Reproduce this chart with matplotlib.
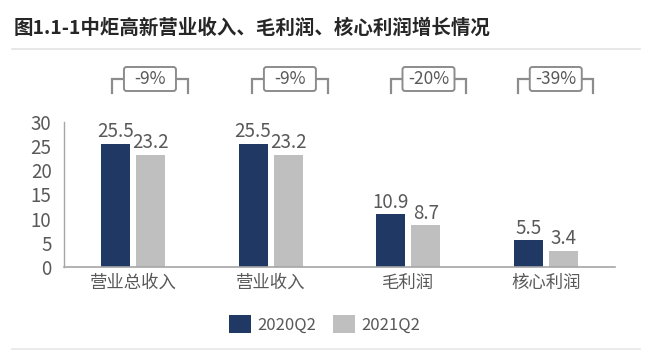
import matplotlib
matplotlib.use("Agg")
import matplotlib.pyplot as plt
import numpy as np
from matplotlib.patches import FancyBboxPatch
from matplotlib.lines import Line2D

plt.rcParams['font.family'] = ['Noto Sans CJK SC', 'DejaVu Sans']

title = "图1.1-1中炬高新营业收入、毛利润、核心利润增长情况"
categories = ["营业总收入", "营业收入", "毛利润", "核心利润"]
series_names = ["2020Q2", "2021Q2"]
values_2020 = [25.5, 25.5, 10.9, 5.5]
values_2021 = [23.2, 23.2, 8.7, 3.4]
changes = ["-9%", "-9%", "-20%", "-39%"]
yticks = [0, 5, 10, 15, 20, 25, 30]

# layout
bracket_offsets = [0.124, 0.14, 0.146, 0.07]
c_dark = "#1F3864"
c_grey = "#BFBFBF"
txt = "#595959"
line_c = "#8C8C8C"

W, H = 655, 357
fig = plt.figure(figsize=(W / 100, H / 100), dpi=100)
ax_l, ax_r = 64, 615
ax = fig.add_axes([ax_l / W, 1 - 267 / H, (ax_r - ax_l) / W, (267 - 122) / H])

x = np.arange(len(categories))
bw = 0.21
gap = 0.045
b1 = ax.bar(x - (bw + gap) / 2, values_2020, bw, color=c_dark, label=series_names[0])
b2 = ax.bar(x + (bw + gap) / 2, values_2021, bw, color=c_grey, label=series_names[1])

for bars, vals in ((b1, values_2020), (b2, values_2021)):
    for r, v in zip(bars, vals):
        ax.annotate(f"{v:.1f}", (r.get_x() + r.get_width() / 2, v),
                    xytext=(0, 1), textcoords="offset points",
                    ha="center", va="bottom", fontsize=13.5, color=txt)

ax.set_xlim(-0.5, len(categories) - 0.5)
ax.set_ylim(0, 30)
ax.set_yticks(yticks)
ax.set_xticks(x)
ax.set_xticklabels(categories, fontsize=12.5, color=txt)
ax.tick_params(axis="y", labelsize=13.5, labelcolor=txt, length=0, pad=9)
ax.tick_params(axis="x", length=0, pad=5)
for s in ("top", "right"):
    ax.spines[s].set_visible(False)
ax.spines["left"].set_color("#A6A6A6")
ax.spines["bottom"].set_color("#A6A6A6")
ax.spines["left"].set_linewidth(1.0)
ax.spines["bottom"].set_linewidth(1.2)

# brackets with change boxes (figure-fraction coordinates)
unit = (ax_r - ax_l) / len(categories)
half_w = 37.7 / W
box_w = 52 / W
box_h = 24 / H
y_line = 1 - 79 / H
y_bot = 1 - 93 / H
for i, lab in enumerate(changes):
    cx = (ax_l + (x[i] + bracket_offsets[i] + 0.5) * unit) / W
    fig.add_artist(Line2D([cx - half_w, cx - half_w, cx + half_w, cx + half_w],
                          [y_bot, y_line, y_line, y_bot],
                          color=line_c, lw=1.6, solid_joinstyle="miter", zorder=1))
    box = FancyBboxPatch((cx - box_w / 2, y_line - box_h / 2), box_w, box_h,
                         boxstyle="round,pad=0,rounding_size=0.004",
                         facecolor="white", edgecolor=line_c, lw=1.4,
                         mutation_aspect=W / H, zorder=2)
    fig.add_artist(box)
    fig.text(cx, y_line, lab, ha="center", va="center",
             fontsize=12.5, color=txt, zorder=3)

# title and separator lines
fig.text(14 / W, 1 - 28 / H, title, ha="left", va="center", fontsize=14,
         fontweight="bold", color="#262626")
fig.add_artist(Line2D([12 / W, 640 / W], [1 - 49 / H] * 2, color="#E3E3E3", lw=1.2))
fig.add_artist(Line2D([12 / W, 640 / W], [1 - 349 / H] * 2, color="#E8E8E8", lw=1.2))

leg = fig.legend(handles=[b1, b2], labels=series_names, loc="center",
                 bbox_to_anchor=(325 / W, 1 - 324 / H), ncol=2, frameon=False,
                 fontsize=12, handlelength=1.3, handleheight=1.3,
                 columnspacing=1.0, handletextpad=0.4, labelcolor=txt)

fig.savefig("out.png", dpi=100)
